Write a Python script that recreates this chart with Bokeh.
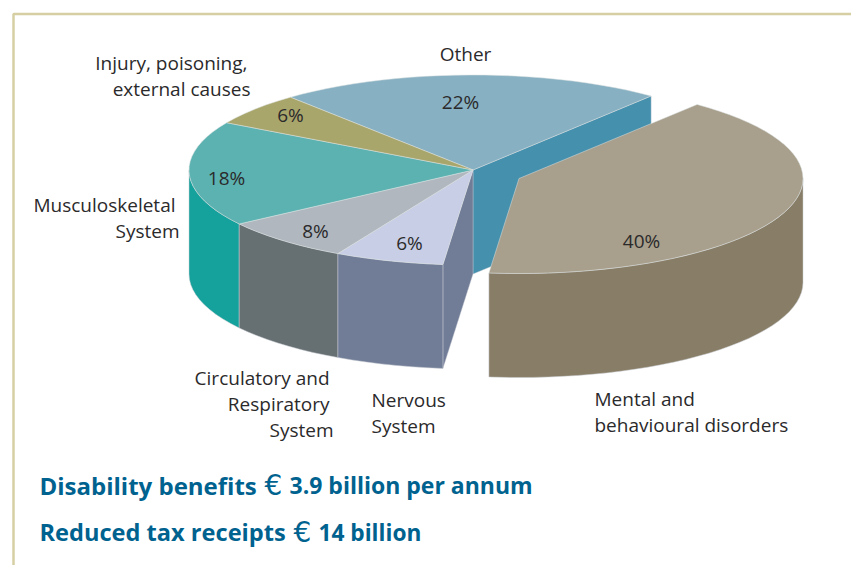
import numpy as np
from bokeh.plotting import figure
from bokeh.models import Range1d
from bokeh.core.properties import value
from bokeh.embed import file_html
from bokeh.resources import INLINE

# data
categories = ["Other", "Mental and behavioural disorders", "Nervous System",
              "Circulatory and Respiratory System", "Musculoskeletal System",
              "Injury, poisoning, external causes"]
share_labels = ["22%", "40%", "6%", "8%", "18%", "6%"]
# slice sizes as drawn in the picture (percent of the full turn)
drawn_shares = [21.9, 40.9, 6.2, 7.5, 17.9, 5.6]
top_colors = ["#87B0C2", "#A89F8C", "#C8CEE5", "#B0B7BE", "#5CB2B1", "#A9A66B"]
wall_colors = ["#4590AD", "#887D66", "#717D97", "#666F72", "#15A19C", "#A9A66B"]

# pie geometry (pixel coordinates of the picture)
CX, CY, RX, RY, DEPTH = 472.5, 169.5, 284, 95, 104
START = 130.0
EX, EY = 46.0, 8.5
INK, BLUE, FRAME = "#2B2A2B", "#00628F", "#D6CFA4"

p = figure(width=851, height=565, output_backend="svg", toolbar_location=None,
           x_range=Range1d(0, 851), y_range=Range1d(565, 0),
           min_border=0, outline_line_color=None, background_fill_color="white")
p.axis.visible = False
p.grid.visible = False

# frame
p.line([13, 13, 851], [565, 13.5, 13.5], line_color=FRAME, line_width=2.5)

# angles from the values
edges = [START]
for s in drawn_shares:
    edges.append(edges[-1] - s * 3.6)


def arc(a0, a1, cx=CX, cy=CY):
    t = np.radians(np.linspace(a0, a1, max(3, int(abs(a1 - a0) / 3) + 1)))
    return cx + RX * np.cos(t), cy - RY * np.sin(t)


def wall(a0, a1, color, cx=CX, cy=CY):
    x, y = arc(a0, a1, cx, cy)
    p.patch(np.r_[x, x[::-1]], np.r_[y, y[::-1] + DEPTH], fill_color=color,
            line_color="#C9CDD3", line_width=0.5)


def cut(a, color):
    x = CX + RX * np.cos(np.radians(a))
    y = CY - RY * np.sin(np.radians(a))
    p.patch([CX, x, x, CX], [CY, y, y + DEPTH, CY + DEPTH], fill_color=color,
            line_color="#C9CDD3", line_width=0.4)


def top(a0, a1, color, cx=CX, cy=CY):
    x, y = arc(a0, a1, cx, cy)
    p.patch(np.r_[cx, x], np.r_[cy, y], fill_color=color,
            line_color="#DDE2E2", line_width=0.5)


# back to front
cut(edges[1], wall_colors[0])
cut(edges[2], wall_colors[2])
for i in (4, 3, 2):
    hi, lo = edges[i], max(edges[i + 1], -180.0)   # rim of the front half only
    wall(hi, lo, wall_colors[i])
for i in (0, 2, 3, 4, 5):
    top(edges[i], edges[i + 1], top_colors[i])
wall(0, edges[2], wall_colors[1], CX + EX, CY + EY)
top(edges[1], edges[2], top_colors[1], CX + EX, CY + EY)

# labels
FONT = value("Open Sans")
label_x = [460, 641, 409, 315, 226, 290]
label_y = [101, 240, 242, 230, 177, 114]
p.text(label_x, label_y, text=share_labels, text_font=FONT, text_font_size="19px",
       text_color=INK, text_align="center", text_baseline="alphabetic")

names = [("Other", 465, 61, "center"),
         ("Injury, poisoning,", 247, 70, "right"),
         ("external causes", 250, 96, "right"),
         ("Musculoskeletal", 175, 212, "right"),
         ("System", 179, 238, "right"),
         ("Circulatory and", 329, 385, "right"),
         ("Respiratory", 329, 411, "right"),
         ("System", 333, 437, "right"),
         ("Nervous", 371, 407, "left"),
         ("System", 371, 433, "left"),
         ("Mental and", 594, 406, "left"),
         ("behavioural disorders", 594, 432, "left")]
for t, x, y, al in names:
    p.text([x], [y - 7.5], text=[t], text_font=FONT, text_font_size="19px",
           text_color=INK, text_align=al, text_baseline="alphabetic")

runs = [("Disability benefits", 39, 484.5, "bold", "24px", "Open Sans"), ("€", 264, 484.5, "normal", "28px", "DejaVu Sans"),
        ("3.9 billion per annum", 289, 484.5, "bold", "23px", "Open Sans"),
        ("Reduced tax receipts", 39, 531.5, "bold", "23.6px", "Open Sans"), ("€", 293, 531.5, "normal", "28px", "DejaVu Sans"),
        ("14 billion", 318, 531.5, "bold", "22.7px", "Open Sans")]
for t, x, y, st, sz, fam in runs:
    p.text([x], [y], text=[t], text_font=value(fam), text_font_size=sz, text_font_style=st,
           text_color=BLUE, text_align="left", text_baseline="alphabetic")

open("out.html", "w").write(file_html(p, INLINE))
